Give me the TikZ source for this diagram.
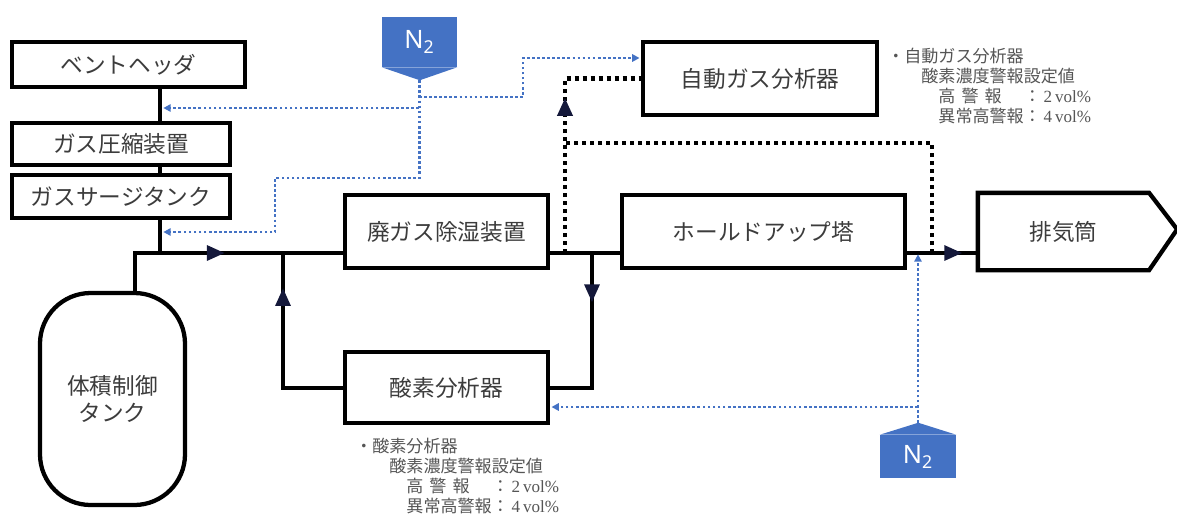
\documentclass[tikz,border=0pt]{standalone}
\usepackage{fontspec}
\setmainfont{Noto Sans CJK JP}
\newfontfamily\numfont{Liberation Serif}
\newfontfamily\gasfont{Noto Sans}
\usetikzlibrary{arrows.meta,decorations.markings}
\definecolor{labelgray}{RGB}{60, 60, 60}
\definecolor{notegray}{RGB}{85, 85, 85}
\definecolor{nitroblue}{RGB}{68, 114, 196}
\definecolor{flownavy}{RGB}{20, 24, 58}

\tikzset{
    box/.style 2 args={draw=black, line width=3.2pt, fill=white, inner sep=0pt,
        minimum width=#1*0.75pt, minimum height=#2*0.75pt,
        text=labelgray, font=\fontsize{17}{20}\selectfont},
    pipe/.style={draw=black, line width=3pt},
    sample/.style={draw=black, line width=3.2pt, dash pattern=on 3pt off 3pt},
    purge/.style={draw=nitroblue, line width=2pt, dash pattern=on 2pt off 1.8pt,
        shorten >=1pt, -{Triangle[length=5.5pt,width=5.5pt]}},
    flow/.style={postaction={decorate}, decoration={markings,
        mark=at position #1 with {\arrow[flownavy]{Triangle[length=13.5pt,width=11pt]}}}},
    n2box/.style={fill=nitroblue, inner sep=0pt, text=white,
        font=\gasfont\fontsize{19}{19}\selectfont},
    note/.style={anchor=north west, align=left, inner sep=0pt, text=notegray,
        font=\fontsize{12.8}{15}\selectfont},
}

\begin{document}
\begin{tikzpicture}[x=0.75pt, y=-0.75pt]
    \useasboundingbox (0,0) rectangle (1177,518);

    % equipment
    \node[box={233}{45}] (vent) at (128.5,64.5) {ベントヘッダ};
    \node[box={218}{42}] (comp) at (121,144) {ガス圧縮装置};
    \node[box={218}{43}] (surge) at (121,196.5) {ガスサージタンク};
    \node[box={145}{212}, rounded corners=38pt, align=center,
        font=\fontsize{17}{20}\selectfont] (tank) at (112.5,399) {体積制御\\タンク};
    \node[box={203}{73}] (hai) at (446.5,231.5) {廃ガス除湿装置};
    \node[box={283}{73}] (hold) at (763.5,231.5) {ホールドアップ塔};
    \node[box={234}{73}] (ana) at (760,78.5) {自動ガス分析器};
    \node[box={203}{71}] (o2) at (446.5,387.5) {酸素分析器};
    \node[box={167}{73}, draw=none, fill=none] (stack) at (1063.5,231.5) {排気筒};
    \draw[line width=3.2pt] (stack.north west) -- (stack.north east) -- ++(28,36.5)
        -- (stack.south east) -- (stack.south west) -- cycle;

    % nitrogen supply
    \node[n2box, minimum width=75*0.75pt, minimum height=50*0.75pt] (n2a) at (419.5,42) {N\textsubscript{2}};
    \fill[nitroblue] (n2a.south west) -- (n2a.south east) -- ++(-37.5,13) -- cycle;
    \path (n2a.south) ++(0,13) coordinate (n2atip);
    \node[n2box, minimum width=76*0.75pt, minimum height=43*0.75pt] (n2b) at (918,456.5) {N\textsubscript{2}};
    \fill[nitroblue] (n2b.north west) -- (n2b.north east) -- ++(-38,-12) -- cycle;
    \path (n2b.north) ++(0,-12) coordinate (n2btip);

    % junctions
    \coordinate (spine) at (160,253);
    \coordinate (j0) at (135,253);
    \coordinate (jret) at (283,253);
    \coordinate (jsa) at (565,253);
    \coordinate (jo2) at (592,253);
    \coordinate (jn2) at (918,253);
    \coordinate (jsb) at (932,253);
    \coordinate (sret) at (932,143);
    \coordinate (tapA) at (419,108);
    \coordinate (tapB) at (419,97);
    \coordinate (tapC) at (918,407);
    \coordinate (bendA) at (275,178);
    \coordinate (bendB) at (523,58);
    \coordinate (sgin) at (162,232);
    \coordinate (vhin) at (162,108);

    % process lines
    \draw[pipe] (vent.south -| spine) -- (comp.north -| spine);
    \draw[pipe] (comp.south -| spine) -- (surge.north -| spine);
    \draw[pipe] (surge.south -| spine) -- (spine);
    \draw[pipe, flow=0.52] (tank.north -| j0) -- (j0) -- (hai.west |- j0);
    \draw[pipe, flow=0.82] (o2.west) -| (jret);
    \draw[pipe] (hai.east |- j0) -- (hold.west |- j0);
    \draw[pipe, flow=0.28] (jo2) |- (o2.east);
    \draw[pipe, flow=0.78] (hold.east |- j0) -- (stack.west |- j0);

    % sampling lines
    \draw[sample, flow=0.62] (jsa) |- (ana.west);
    \draw[sample] (jsb) |- (sret -| jsa);

    % N2 purge
    \draw[purge] (n2atip) |- (bendA) |- (sgin);
    \draw[purge] (tapA) -- (vhin);
    \draw[purge] (tapB) -| (bendB) -- (bendB -| ana.west);
    \draw[purge] (n2btip) -- (jn2);
    \draw[purge] (tapC) -- (o2.east |- tapC);

    % alarm settings
    \node[note] (note1) at (887,48) {・自動ガス分析器\\
        \hspace*{2em}酸素濃度警報設定値\\
        \hspace*{3em}\makebox[5em][l]{高\hspace{0.35em}警\hspace{0.35em}報}：{\numfont\,2\,vol\%}\\
        \hspace*{3em}異常高警報：{\numfont\,4\,vol\%}};
    \node[note] (note2) at (355,438) {・酸素分析器\\
        \hspace*{2em}酸素濃度警報設定値\\
        \hspace*{3em}\makebox[5em][l]{高\hspace{0.35em}警\hspace{0.35em}報}：{\numfont\,2\,vol\%}\\
        \hspace*{3em}異常高警報：{\numfont\,4\,vol\%}};
\end{tikzpicture}
\end{document}
